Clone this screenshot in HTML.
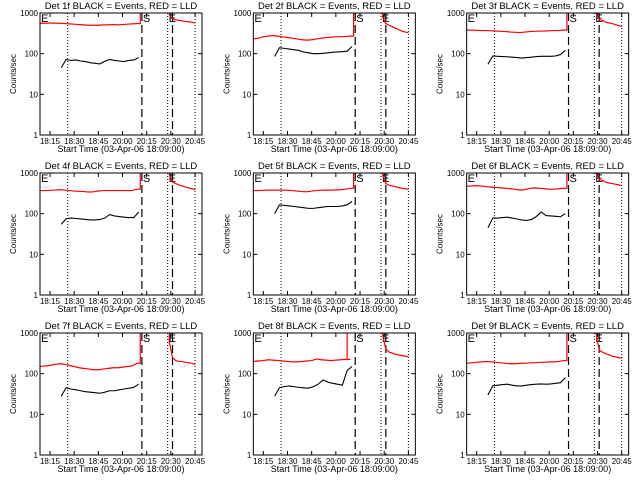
<!DOCTYPE html>
<html><head><meta charset="utf-8"><style>
html,body{margin:0;padding:0;background:#fff;}
svg{display:block;font-family:"Liberation Sans",sans-serif;}
</style></head><body>
<svg id="chart" width="640" height="480" viewBox="0 0 640 480" xmlns="http://www.w3.org/2000/svg"></svg>
<script>
const tRed=[-6,-3,0,3,6,9,12,15,18,21,24,27,30,33,36,39,42,45,48,51,54];
const tBlack=[7,10,13,16,19,22,25,28,31,34,37,40,43,46,49,52,55];
const tAfter=[74,76,78,80,82,84,86,88,90];
const xTickLabels=["18:15","18:30","18:45","20:00","20:15","20:30","20:45"];
const xTickMinutes=[0,15,30,45,60,75,90];
const yTicks=[1,10,100,1000];
const eventDotted=[11,73,90];
const eventDashed=[57,76];
const detNames=["1f","2f","3f","4f","5f","6f","7f","8f","9f"];
const spikeT=[56,56,56,56,56,56,56,52,56];
const red1=[560,560,570,560,560,550,540,530,520,510,500,500,500,510,510,520,510,520,530,540,550];
const red2=[230,240,260,270,280,270,260,250,240,230,220,215,220,230,240,250,255,260,260,265,270];
const red3=[380,380,375,370,370,365,360,355,350,340,335,330,340,350,355,360,360,365,370,370,380];
const red4=[370,370,375,380,390,380,370,360,355,350,340,345,360,370,370,370,370,370,370,370,400];
const red5=[370,370,375,380,380,380,380,375,370,360,350,345,360,370,375,380,380,385,390,400,420];
const red6=[470,480,490,480,460,450,440,430,420,410,400,380,390,420,430,420,410,400,400,410,420];
const red7=[150,155,160,170,175,170,160,150,140,135,130,125,125,130,135,140,140,145,150,155,180];
const red8=[200,205,210,220,215,210,205,200,195,195,200,205,210,230,220,215,210,215,220,225,225];
const red9=[180,185,190,195,200,195,190,185,180,175,175,180,180,185,185,190,190,195,195,200,210];
const black1=[45,72,68,70,66,64,60,58,56,65,72,68,66,64,68,70,80];
const black2=[85,140,135,130,125,120,110,105,100,100,102,105,108,110,112,115,150];
const black3=[55,88,86,85,84,82,80,78,80,82,85,86,86,86,88,95,120];
const black4=[55,75,78,76,74,72,70,70,72,78,95,88,85,82,80,80,110];
const black5=[100,165,160,155,150,145,140,135,135,140,145,150,150,150,155,165,200];
const black6=[45,78,78,80,82,78,74,70,68,72,85,110,90,88,86,84,100];
const black7=[28,45,42,40,38,36,35,34,33,35,38,38,40,42,44,46,55];
const black8=[28,45,48,50,48,46,45,44,48,55,70,62,58,55,52,120,150];
const black9=[30,50,52,54,55,52,50,50,52,54,55,56,55,56,58,60,80];
const after1=[900,700,680,660,640,620,610,590,570];
const after2=[800,550,500,460,420,390,360,340,330];
const after3=[1000,700,650,600,570,550,520,490,460];
const after4=[900,600,550,510,480,450,430,410,390];
const after5=[900,550,500,480,460,440,420,410,400];
const after6=[1000,700,650,600,570,550,530,510,490];
const after7=[600,250,210,200,200,190,185,180,170];
const after8=[900,400,340,320,300,290,280,270,260];
const after9=[1000,380,340,310,290,270,260,250,240];
const reds=[red1,red2,red3,red4,red5,red6,red7,red8,red9];
const blacks=[black1,black2,black3,black4,black5,black6,black7,black8,black9];
const afters=[after1,after2,after3,after4,after5,after6,after7,after8,after9];

const NS="http://www.w3.org/2000/svg";
const svg=document.getElementById('chart');
function mk(tag,attrs,parent){const e=document.createElementNS(NS,tag);for(const k in attrs)e.setAttribute(k,attrs[k]);parent.appendChild(e);return e;}
const L=40,R=202,T=13,B=135;
const xMin=-6.2,xMax=94.3;
function xs(m){return L+(m-xMin)/(xMax-xMin)*(R-L);}
function ys(v){return B-(Math.log10(Math.max(v,0.5)))/3*(B-T);}

for(let p=0;p<9;p++){
  const ox=(p%3)*213.33, oy=Math.floor(p/3)*160;
  const g=mk('g',{transform:`translate(${ox},${oy})`},svg);
  
  
  const cid='clip'+p;
  const cp=mk('clipPath',{id:cid},g);mk('rect',{x:L,y:T,width:R-L,height:B-T},cp);
  const title=mk('text',{x:121,y:9,'font-size':'9.5','text-anchor':'middle',fill:'#000'},g);
  title.textContent='Det '+detNames[p]+' BLACK = Events, RED = LLD';
  
  
  const yl=mk('text',{x:0,y:0,'font-size':'8','text-anchor':'middle',transform:`translate(16,${(T+B)/2}) rotate(-90)`},g);
  yl.textContent='Counts/sec';
  
  
  const xl=mk('text',{x:121,y:152,'font-size':'9','text-anchor':'middle'},g);
  xl.textContent='Start Time (03-Apr-06 18:09:00)';
  
  
  // ticks
  yTicks.forEach(v=>{
    const y=ys(v);
    mk('line',{x1:L,x2:L+4,y1:y,y2:y,stroke:'#000','stroke-width':1},g);
    mk('line',{x1:R-4,x2:R,y1:y,y2:y,stroke:'#000','stroke-width':1},g);
    const t=mk('text',{x:L-2,y:y+3,'font-size':'8','text-anchor':'end'},g);
    t.textContent=String(v);
    
    
  });
  xTickMinutes.forEach((m,i)=>{
    const x=xs(m);
    mk('line',{x1:x,x2:x,y1:B,y2:B-4,stroke:'#000','stroke-width':1},g);
    mk('line',{x1:x,x2:x,y1:T,y2:T+4,stroke:'#000','stroke-width':1},g);
    const t=mk('text',{x:x,y:144,'font-size':'8','text-anchor':'middle'},g);
    t.textContent=xTickLabels[i];
    
    
  });
  // events
  eventDotted.forEach(m=>{const l=mk('line',{x1:xs(m),x2:xs(m),y1:T,y2:B,stroke:'#000','stroke-width':1,'stroke-dasharray':'1,2'},g);
    });
  eventDashed.forEach(m=>{const l=mk('line',{x1:xs(m),x2:xs(m),y1:T,y2:B,stroke:'#000','stroke-width':1.2,'stroke-dasharray':'8,4'},g);
    });
  [['E',L+1],['S',xs(57)+1],['E',xs(73)+1]].forEach(a=>{
    const t=mk('text',{x:a[1],y:T+9,'font-size':'11'},g);t.textContent=a[0];
    });
  const cg=mk('g',{'clip-path':`url(#${cid})`},g);
  // red pre
  let pts=reds[p].map((v,i)=>xs(tRed[i])+','+ys(v));
  pts.push(xs(spikeT[p])+','+ys(reds[p][reds[p].length-1]));
  pts.push(xs(spikeT[p])+','+ys(2000));
  const r1=mk('polyline',{points:pts.join(' '),fill:'none',stroke:'#ff0000','stroke-width':1.2},cg);
  
  let bp=blacks[p].map((v,i)=>xs(tBlack[i])+','+ys(v));
  const b1=mk('polyline',{points:bp.join(' '),fill:'none',stroke:'#000','stroke-width':1.1},cg);
  
  let ap=[xs(tAfter[0])+','+ys(2000)].concat(afters[p].map((v,i)=>xs(tAfter[i])+','+ys(v)));
  const r2=mk('polyline',{points:ap.join(' '),fill:'none',stroke:'#ff0000','stroke-width':1.2},cg);
  
  const fr=mk('rect',{x:L,y:T,width:R-L,height:B-T,fill:'none',stroke:'#000','stroke-width':1},g);
  
}
</script>
</body></html>
